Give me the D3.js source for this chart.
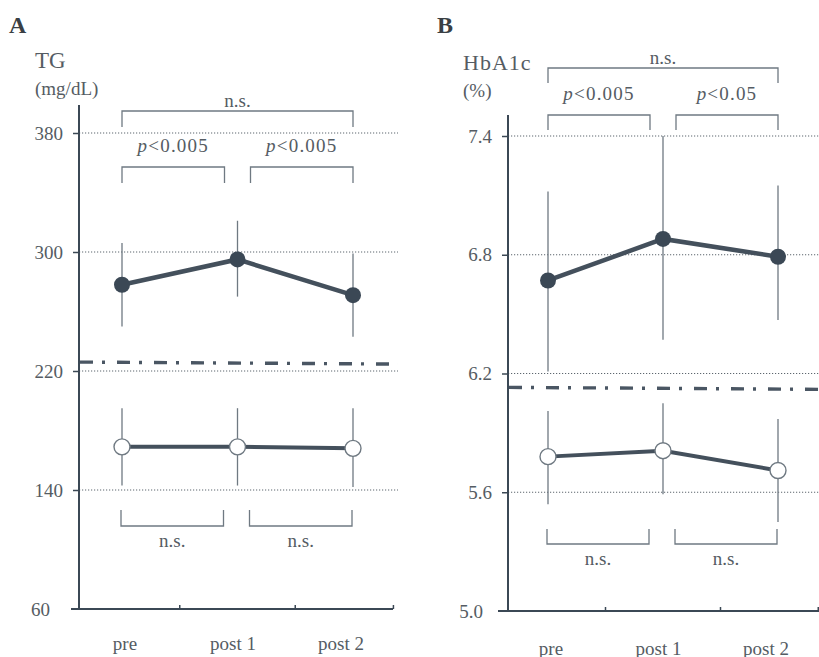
<!DOCTYPE html>
<html><head><meta charset="utf-8">
<script src="https://cdn.jsdelivr.net/npm/d3@7"></script>
<style>
html,body{margin:0;padding:0;background:#fff;}
svg{display:block;font-family:"Liberation Serif","DejaVu Serif",serif;}
</style></head>
<body><svg id="chart" width="819" height="657"></svg>
<script>
// ---------- data ----------
const categories = ["pre", "post 1", "post 2"];

// Panel A: TG (mg/dL)
const tgTicks = [60, 140, 220, 300, 380];
const tgHigh = [278, 295, 271];
const tgHighUpper = [306, 321, 299];
const tgHighLower = [250, 270, 243];
const tgLow = [169, 169, 168];
const tgLowUpper = [195, 195, 195];
const tgLowLower = [143, 143, 142];
const tgReference = 226;
const tgTopLabels = ["p<0.005", "p<0.005"];
const tgBottomLabels = ["n.s.", "n.s."];
const tgOverallLabel = "n.s.";

// Panel B: HbA1c (%)
const hbTicks = [5.0, 5.6, 6.2, 6.8, 7.4];
const hbHigh = [6.67, 6.88, 6.79];
const hbHighUpper = [7.12, 7.40, 7.15];
const hbHighLower = [6.21, 6.37, 6.47];
const hbLow = [5.78, 5.81, 5.71];
const hbLowUpper = [6.01, 6.05, 5.97];
const hbLowLower = [5.54, 5.59, 5.45];
const hbReference = 6.13;
const hbTopLabels = ["p<0.005", "p<0.05"];
const hbBottomLabels = ["n.s.", "n.s."];
const hbOverallLabel = "n.s.";

// ---------- styles ----------
const C = {
  dark: "#3b4855",
  line: "#44505c",
  thin: "#6f7982",
  text: "#555c63",
  grid: "#5d666e"
};

const svg = d3.select("#chart");

function panel(cfg) {
  const g = svg.append("g");
  const y = d3.scaleLinear().domain(cfg.domain).range(cfg.yRange);
  const x = d3.scaleLinear().domain([0, categories.length - 1]).range(cfg.xRange);
  const xLab = d3.scaleLinear().domain([0, categories.length - 1]).range(cfg.labelRange);
  const idx = categories.map((c, i) => i);

  // gridlines (dotted)
  g.selectAll(".grid").data(cfg.ticks.slice(1)).enter().append("line")
    .attr("x1", cfg.axisX).attr("x2", cfg.gridEnd)
    .attr("y1", d => y(d)).attr("y2", d => y(d))
    .attr("stroke", C.grid).attr("stroke-width", 1.1).attr("stroke-dasharray", "1.2,1.8");

  // y axis
  const yAxis = d3.axisLeft(y).tickValues(cfg.ticks).tickSize(6).tickPadding(10)
    .tickFormat(cfg.fmt);
  const ya = g.append("g").attr("transform", `translate(${cfg.axisX},0)`).call(yAxis);
  ya.select(".domain").remove();
  ya.selectAll(".tick line").attr("stroke", C.dark).attr("stroke-width", 1.5);
  ya.selectAll(".tick text").attr("fill", C.text).style("font-size", "19px")
    .style("font-family", "Liberation Serif");
  // bottom tick: no tick mark, label shifted left
  ya.selectAll(".tick").filter(d => d === cfg.ticks[0]).select("line").remove();
  ya.selectAll(".tick").filter(d => d === cfg.ticks[0]).select("text").attr("x", -cfg.bottomLabelShift);
  g.append("line").attr("x1", cfg.axisX).attr("x2", cfg.axisX)
    .attr("y1", cfg.axisTop).attr("y2", y(cfg.domain[0]))
    .attr("stroke", C.dark).attr("stroke-width", 2);

  // x axis
  g.append("line").attr("x1", cfg.xAxisStart).attr("x2", cfg.xAxisEnd)
    .attr("y1", y(cfg.domain[0])).attr("y2", y(cfg.domain[0]))
    .attr("stroke", C.dark).attr("stroke-width", 2);
  g.selectAll(".xt").data([0.5, 1.5, 2.35]).enter().append("line")
    .attr("x1", d => x(d)).attr("x2", d => x(d))
    .attr("y1", y(cfg.domain[0])).attr("y2", y(cfg.domain[0]) - 4)
    .attr("stroke", C.dark).attr("stroke-width", 1.5);
  g.selectAll(".xl").data(categories).enter().append("text")
    .attr("x", (d, i) => xLab(i)).attr("y", cfg.xLabelY)
    .attr("text-anchor", "middle").attr("dominant-baseline", "central")
    .attr("fill", C.text).style("font-size", "19px").text(d => d);

  // reference dash-dot line
  g.append("line").attr("x1", cfg.axisX + 1).attr("x2", cfg.gridEnd)
    .attr("y1", y(cfg.ref)).attr("y2", y(cfg.ref) + 2)
    .attr("stroke", "#4a5663").attr("stroke-width", 3.4)
    .attr("stroke-dasharray", "13,9,3,12");

  // error bars
  function errs(upper, lower) {
    g.selectAll(null).data(idx).enter().append("line")
      .attr("x1", i => x(i)).attr("x2", i => x(i))
      .attr("y1", i => y(upper[i])).attr("y2", i => y(lower[i]))
      .attr("stroke", C.thin).attr("stroke-width", 1.3);
  }
  errs(cfg.highU, cfg.highL);
  errs(cfg.lowU, cfg.lowL);

  const line = d3.line().x(d => x(d[0])).y(d => y(d[1]));
  g.append("path").attr("d", line(cfg.high.map((v, i) => [i, v])))
    .attr("fill", "none").attr("stroke", C.line).attr("stroke-width", 4.5);
  g.append("path").attr("d", line(cfg.low.map((v, i) => [i, v])))
    .attr("fill", "none").attr("stroke", C.line).attr("stroke-width", 4);

  g.selectAll(null).data(cfg.high).enter().append("circle")
    .attr("cx", (d, i) => x(i)).attr("cy", d => y(d)).attr("r", 8)
    .attr("fill", C.dark);
  g.selectAll(null).data(cfg.low).enter().append("circle")
    .attr("cx", (d, i) => x(i)).attr("cy", d => y(d)).attr("r", 8)
    .attr("fill", "#fff").attr("stroke", C.thin).attr("stroke-width", 1.4);

  // brackets
  const gap = 13;
  function bracket(x1, x2, yBar, yEnd) {
    g.append("path")
      .attr("d", `M${x1},${yEnd}V${yBar}H${x2}V${yEnd}`)
      .attr("fill", "none").attr("stroke", C.thin).attr("stroke-width", 1.3);
  }
  function label(txt, xc, yc, italicP) {
    const t = g.append("text").attr("x", xc).attr("y", yc)
      .attr("text-anchor", "middle").attr("dominant-baseline", "central")
      .attr("fill", C.text).style("font-size", "19px");
    if (italicP && txt.startsWith("p")) {
      t.style("letter-spacing", "1.2px");
      t.append("tspan").style("font-style", "italic").text("p");
      t.append("tspan").text(txt.slice(1));
    } else t.text(txt);
  }
  // overall
  bracket(x(0), x(2), cfg.overallBar, cfg.overallBar + cfg.legLen);
  label(cfg.overallLabel, (x(0) + x(2)) / 2, cfg.overallBar - 11, false);
  // pairwise top
  const pairs = [[x(0), x(1) - gap], [x(1) + gap, x(2)]];
  pairs.forEach((p, k) => {
    bracket(p[0], p[1], cfg.topBar, cfg.topBar + cfg.legLen);
    label(cfg.topLabels[k], (p[0] + p[1]) / 2, cfg.topBar - 22, true);
  });
  // pairwise bottom
  const bpairs = [[x(0) - 1, x(1) - gap - 1], [x(1) + gap - 1, x(2) - 1]];
  bpairs.forEach((p, k) => {
    bracket(p[0], p[1], cfg.bottomBar, cfg.bottomBar - cfg.legLen);
    label(cfg.bottomLabels[k], (p[0] + p[1]) / 2, cfg.bottomBar + 14, false);
  });

  // titles
  g.append("text").attr("x", cfg.letterX).attr("y", 25).attr("dominant-baseline", "central")
    .attr("fill", "#3a3f44").style("font-size", "24px").style("font-weight", "bold").text(cfg.letter);
  g.append("text").attr("x", cfg.titleX).attr("y", cfg.titleY).attr("dominant-baseline", "central")
    .attr("fill", C.text).style("font-size", cfg.titleSize).style("letter-spacing", cfg.titleSpacing).text(cfg.title);
  g.append("text").attr("x", cfg.titleX).attr("y", cfg.titleY + 28).attr("dominant-baseline", "central")
    .attr("fill", C.text).style("font-size", "19px").text(cfg.unit);
}

panel({
  domain: [60, 380], ticks: tgTicks, fmt: d3.format("d"),
  yRange: [609, 133], xRange: [122, 353], labelRange: [125, 341],
  axisX: 79, axisTop: 105, gridEnd: 398, xAxisStart: 71, xAxisEnd: 393,
  bottomLabelShift: 29, xLabelY: 643,
  ref: tgReference,
  high: tgHigh, highU: tgHighUpper, highL: tgHighLower,
  low: tgLow, lowU: tgLowUpper, lowL: tgLowLower,
  overallBar: 111, topBar: 167, bottomBar: 526, legLen: 16,
  overallLabel: tgOverallLabel, topLabels: tgTopLabels, bottomLabels: tgBottomLabels,
  letter: "A", letterX: 9, title: "TG", titleX: 35, titleY: 60, titleSize: "23px", titleSpacing: "0px", unit: "(mg/dL)"
});

panel({
  domain: [5.0, 7.4], ticks: hbTicks, fmt: d3.format(".1f"),
  yRange: [611, 136], xRange: [548, 778], labelRange: [551, 766],
  axisX: 508, axisTop: 115, gridEnd: 819, xAxisStart: 498, xAxisEnd: 819,
  bottomLabelShift: 25, xLabelY: 648,
  ref: hbReference,
  high: hbHigh, highU: hbHighUpper, highL: hbHighLower,
  low: hbLow, lowU: hbLowUpper, lowL: hbLowLower,
  overallBar: 68, topBar: 115, bottomBar: 544, legLen: 15,
  overallLabel: hbOverallLabel, topLabels: hbTopLabels, bottomLabels: hbBottomLabels,
  letter: "B", letterX: 437, title: "HbA1c", titleX: 463, titleY: 62, titleSize: "22px", titleSpacing: "1px", unit: "(%)"
});
</script></body></html>
